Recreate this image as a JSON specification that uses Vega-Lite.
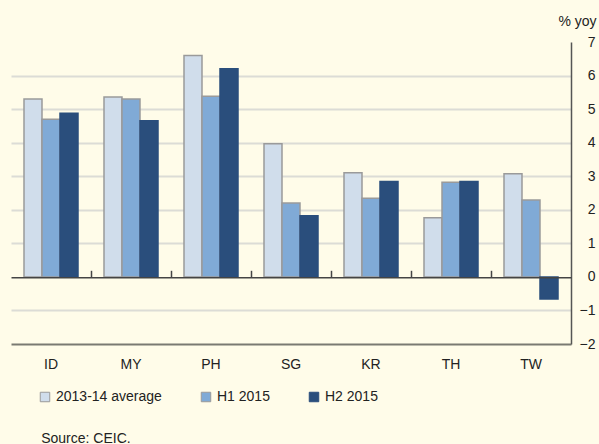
{
  "$schema": "https://vega.github.io/schema/vega-lite/v6.json",
  "width": 560,
  "height": 302,
  "autosize": {"type": "none"},
  "padding": {"left": 11, "top": 42, "right": 28, "bottom": 100},
  "background": "#FFFCE9",
  "config": {
    "view": {"stroke": null},
    "font": "Liberation Sans",
    "text": {"font": "Liberation Sans"}
  },
  "data": {
    "values": [
      {"country": "ID", "series": "2013-14 average", "value": 5.3},
      {"country": "ID", "series": "H1 2015", "value": 4.7},
      {"country": "ID", "series": "H2 2015", "value": 4.88},
      {"country": "MY", "series": "2013-14 average", "value": 5.36},
      {"country": "MY", "series": "H1 2015", "value": 5.3},
      {"country": "MY", "series": "H2 2015", "value": 4.65},
      {"country": "PH", "series": "2013-14 average", "value": 6.6},
      {"country": "PH", "series": "H1 2015", "value": 5.38},
      {"country": "PH", "series": "H2 2015", "value": 6.2},
      {"country": "SG", "series": "2013-14 average", "value": 3.97},
      {"country": "SG", "series": "H1 2015", "value": 2.2},
      {"country": "SG", "series": "H2 2015", "value": 1.82},
      {"country": "KR", "series": "2013-14 average", "value": 3.1},
      {"country": "KR", "series": "H1 2015", "value": 2.34},
      {"country": "KR", "series": "H2 2015", "value": 2.84},
      {"country": "TH", "series": "2013-14 average", "value": 1.76},
      {"country": "TH", "series": "H1 2015", "value": 2.82},
      {"country": "TH", "series": "H2 2015", "value": 2.84},
      {"country": "TW", "series": "2013-14 average", "value": 3.07},
      {"country": "TW", "series": "H1 2015", "value": 2.29},
      {"country": "TW", "series": "H2 2015", "value": -0.66}
    ]
  },
  "layer": [
    {
      "mark": {"type": "bar", "strokeWidth": 1.5},
      "encoding": {
        "x": {
          "field": "country",
          "type": "nominal",
          "sort": ["ID", "MY", "PH", "SG", "KR", "TH", "TW"],
          "scale": {"paddingInner": 0, "paddingOuter": 0},
          "axis": {
            "orient": "bottom",
            "domainColor": "#7a7a72",
            "domainWidth": 2,
            "ticks": false,
            "grid": false,
            "labelAngle": 0,
            "labelPadding": 13,
            "labelFontSize": 14,
            "labelColor": "#222222",
            "title": "Source: CEIC.",
            "titleX": 29.7,
            "titleY": 94,
            "titleAlign": "left",
            "titleAnchor": "start",
            "titleBaseline": "middle",
            "titleFontWeight": "normal",
            "titleFontSize": 14,
            "titleColor": "#222222"
          }
        },
        "xOffset": {
          "field": "series",
          "sort": ["2013-14 average", "H1 2015", "H2 2015"],
          "scale": {"paddingInner": 0, "paddingOuter": 0.722}
        },
        "y": {
          "field": "value",
          "type": "quantitative",
          "scale": {"domain": [-2, 7], "nice": false, "zero": false},
          "axis": {
            "orient": "right",
            "values": [-2, -1, 0, 1, 2, 3, 4, 5, 6, 7],
            "domainColor": "#555555",
            "domainWidth": 1.5,
            "ticks": false,
            "labelAlign": "right",
            "labelBaseline": "middle",
            "labelPadding": 24,
            "labelFontSize": 14,
            "labelColor": "#222222",
            "grid": true,
            "gridColor": {
              "condition": {"test": "datum.value === 7 || datum.value === 0 || datum.value === -2", "value": "transparent"},
              "value": "#DCDCD6"
            },
            "gridWidth": 2,
            "title": "% yoy",
            "titleAngle": 0,
            "titleX": 25,
            "titleY": -21,
            "titleAlign": "right",
            "titleBaseline": "middle",
            "titleFontWeight": "normal",
            "titleFontSize": 14,
            "titleColor": "#222222"
          }
        },
        "fill": {
          "field": "series",
          "type": "nominal",
          "scale": {
            "domain": ["2013-14 average", "H1 2015", "H2 2015"],
            "range": ["#D0DDEB", "#80AAD6", "#2A4E7C"]
          },
          "legend": {
            "orient": "none",
            "legendX": 27,
            "legendY": 348,
            "direction": "horizontal",
            "title": null,
            "padding": 0,
            "symbolType": "square",
            "symbolSize": 90,
            "symbolStrokeWidth": 1,
            "labelFontSize": 14,
            "labelColor": "#222222",
            "labelOffset": 4,
            "columnPadding": 37
          }
        },
        "stroke": {
          "field": "series",
          "type": "nominal",
          "scale": {
            "domain": ["2013-14 average", "H1 2015", "H2 2015"],
            "range": ["#9A9A9A", "#9A9A9A", "#2A4E7C"]
          },
          "legend": {
            "orient": "none",
            "legendX": 27,
            "legendY": 348,
            "direction": "horizontal",
            "title": null,
            "padding": 0,
            "symbolType": "square",
            "symbolSize": 90,
            "symbolStrokeWidth": 1,
            "labelFontSize": 14,
            "labelColor": "#222222",
            "labelOffset": 4,
            "columnPadding": 37
          }
        }
      }
    },
    {
      "mark": {"type": "rule", "opacity": 0},
      "encoding": {
        "x": {
          "field": "country",
          "type": "nominal",
          "sort": ["ID", "MY", "PH", "SG", "KR", "TH", "TW"],
          "axis": {
            "orient": "top",
            "offset": -235.3,
            "labels": false,
            "title": null,
            "grid": false,
            "domainColor": "#444444",
            "domainWidth": 1.5,
            "ticks": true,
            "tickColor": "#444444",
            "tickSize": 7,
            "tickWidth": 1.5,
            "bandPosition": 0,
            "values": ["MY", "PH", "SG", "KR", "TH", "TW"],
            "zindex": 1
          }
        }
      }
    }
  ],
  "resolve": {"axis": {"x": "independent"}}
}
